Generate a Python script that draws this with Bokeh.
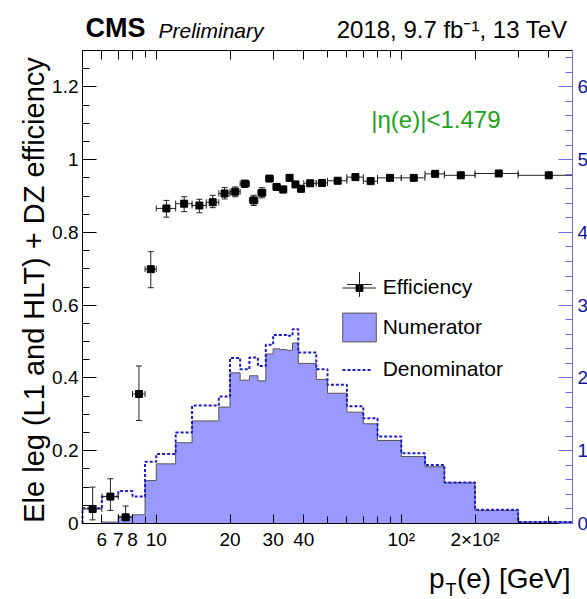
import math
import numpy as np
from bokeh.plotting import figure
from bokeh.models import (Range1d, LinearAxis, LogAxis, FixedTicker, Label, Legend,
                          LegendItem, ColumnDataSource, Whisker, TeeHead)
from bokeh.embed import file_html
from bokeh.resources import INLINE

FONT = "Liberation Sans"

# ---------------- data ----------------
bin_edges = [5, 6, 7, 8, 9, 10, 12, 14, 16, 18, 20, 22, 24, 26, 28, 30, 32, 34, 36,
             38, 40, 45, 50, 60, 70, 80, 100, 125, 150, 200, 300, 500]
efficiency = [0.040, 0.074, 0.017, 0.356, 0.699, 0.866, 0.879, 0.874, 0.883, 0.907,
              0.912, 0.934, 0.888, 0.909, 0.948, 0.925, 0.918, 0.950, 0.932, 0.920,
              0.935, 0.936, 0.942, 0.952, 0.941, 0.950, 0.950, 0.961, 0.957, 0.962, 0.957]
eff_err_up = [0.060, 0.049, 0.031, 0.077, 0.048, 0.022, 0.019, 0.017, 0.019, 0.016,
              0.013, 0.009, 0.014, 0.014, 0.007, 0.009, 0.009, 0.007, 0.008, 0.008,
              0.005, 0.005, 0.004, 0.004, 0.004, 0.003, 0.003, 0.003, 0.003, 0.003, 0.003]
eff_err_down = [0.030, 0.038, 0.015, 0.073, 0.051, 0.024, 0.022, 0.020, 0.015, 0.015,
                0.014, 0.010, 0.014, 0.014, 0.008, 0.009, 0.009, 0.008, 0.008, 0.008,
                0.005, 0.005, 0.004, 0.004, 0.004, 0.003, 0.003, 0.003, 0.003, 0.003, 0.003]
# histograms, in units of the right-hand axis
numerator = [0.00, 0.02, 0.10, 0.12, 0.59, 0.82, 1.11, 1.41, 1.41, 1.60, 2.07, 1.97,
             2.03, 1.96, 2.33, 2.40, 2.39, 2.38, 2.48, 2.20, 2.20, 1.98, 1.79, 1.53,
             1.37, 1.14, 0.92, 0.78, 0.56, 0.18, 0.02]
denominator = [0.21, 0.37, 0.445, 0.37, 0.85, 0.955, 1.25, 1.62, 1.62, 1.745, 2.275,
               2.12, 2.28, 2.165, 2.455, 2.59, 2.59, 2.58, 2.67, 2.35, 2.35, 2.12,
               1.905, 1.61, 1.445, 1.195, 0.965, 0.805, 0.565, 0.19, 0.02]

x_major_ticks = [6, 7, 8, 10, 20, 30, 40, 100, 200]
x_major_labels = ["6", "7", "8", "10", "20", "30", "40", "10²", "2×10²"]
x_minor_ticks = [9, 50, 60, 70, 80, 90, 300, 400]
y_major_ticks = [0, 0.2, 0.4, 0.6, 0.8, 1, 1.2]
y_major_labels = ["0", "0.2", "0.4", "0.6", "0.8", "1", "1.2"]
y_minor_ticks = [round(0.05 * i, 2) for i in range(27)]
r_major_ticks = [0, 1, 2, 3, 4, 5, 6]
r_minor_ticks = [round(0.2 * i, 1) for i in range(33)]

X_MIN, X_MAX = 5, 500
Y_MAX = 1.3
R_MAX = 6.5

# ---------------- layout (pixels) ----------------
W, H = 587, 599
FRAME_L, FRAME_R, FRAME_T, FRAME_B = 82, 572, 50, 523

px_dec = (FRAME_R - FRAME_L) / math.log10(X_MAX / X_MIN)
x_start = 10 ** (math.log10(X_MIN) - FRAME_L / px_dec)
x_end = 10 ** (math.log10(X_MAX) + (W - FRAME_R) / px_dec)
px_y = (FRAME_B - FRAME_T) / Y_MAX
y_start = -(H - FRAME_B) / px_y
y_end = Y_MAX + FRAME_T / px_y
r_fac = R_MAX / Y_MAX

# ---------------- derived ----------------
edges = np.array(bin_edges, dtype=float)
x_lo, x_hi = edges[:-1], edges[1:]
x_c = 0.5 * (x_lo + x_hi)
eff = np.array(efficiency)
src = ColumnDataSource(dict(x=x_c, y=eff, xlo=x_lo, xhi=x_hi,
                            ylo=eff - np.array(eff_err_down),
                            yhi=eff + np.array(eff_err_up)))


def outline(vals):
    xs = np.repeat(edges, 2)
    ys = np.concatenate([[0.0], np.repeat(np.array(vals, dtype=float), 2), [0.0]])
    return xs, ys


p = figure(width=W, height=H, x_axis_type="log",
           x_range=Range1d(x_start, x_end), y_range=Range1d(y_start, y_end),
           toolbar_location=None, output_backend="svg", min_border=0)
p.extra_y_ranges = {"hist": Range1d(y_start * r_fac, y_end * r_fac)}
p.outline_line_color = None
p.xgrid.visible = False
p.ygrid.visible = False
p.background_fill_color = "white"
p.border_fill_color = "white"


def style_axis(ax, color="black", label_color="black", major=14, minor=7):
    ax.axis_line_color = color
    ax.axis_line_width = 1
    ax.major_tick_line_color = color
    ax.minor_tick_line_color = color
    ax.major_tick_out = 0
    ax.minor_tick_out = 0
    ax.major_tick_in = major
    ax.minor_tick_in = minor
    ax.major_label_text_font = FONT
    ax.major_label_text_font_size = "19px"
    ax.major_label_text_color = label_color


# bottom axis
xb = p.xaxis[0]
xb.ticker = FixedTicker(ticks=x_major_ticks, minor_ticks=x_minor_ticks)
xb.major_label_overrides = dict(zip(x_major_ticks, x_major_labels))
xb.fixed_location = 0
xb.bounds = (X_MIN, X_MAX)
style_axis(xb, major=9, minor=7)
xb.major_label_standoff = 5

# top axis (ticks only)
xt = LogAxis(ticker=FixedTicker(ticks=x_major_ticks, minor_ticks=x_minor_ticks),
             major_label_overrides={t: "" for t in x_major_ticks},
             fixed_location=Y_MAX, bounds=(X_MIN, X_MAX))
style_axis(xt, major=9, minor=7)
p.add_layout(xt, "above")

# left axis
yl = p.yaxis[0]
yl.ticker = FixedTicker(ticks=y_major_ticks, minor_ticks=y_minor_ticks)
yl.major_label_overrides = dict(zip(y_major_ticks, y_major_labels))
yl.fixed_location = X_MIN
yl.bounds = (0, Y_MAX)
style_axis(yl, major=14, minor=7)
yl.major_label_standoff = 4

# right axis (histogram scale)
yr = LinearAxis(y_range_name="hist",
                ticker=FixedTicker(ticks=r_major_ticks, minor_ticks=r_minor_ticks),
                fixed_location=X_MAX, bounds=(0, R_MAX))
style_axis(yr, color="#6f6fdc", label_color="#14149c", major=14, minor=7)
yr.major_label_standoff = 5
p.add_layout(yr, "right")

# ---------------- glyphs ----------------
xs_n, ys_n = outline(numerator)
num_r = p.patch(xs_n, ys_n, y_range_name="hist", fill_color="#9999ff",
                line_color="#555555", line_width=1)
xs_d, ys_d = outline(denominator)
den_r = p.line(xs_d, ys_d, y_range_name="hist", line_color="#1c1cc8",
               line_width=2, line_dash="3 2")

ERR = "#222222"
hbar_r = p.segment(x0="xlo", y0="y", x1="xhi", y1="y", source=src,
                   line_color=ERR, line_width=1)
p.add_layout(Whisker(source=src, base="y", lower="xlo", upper="xhi", dimension="width",
                     line_alpha=0,
                     upper_head=TeeHead(size=6, line_color=ERR, line_width=1),
                     lower_head=TeeHead(size=6, line_color=ERR, line_width=1)))
p.add_layout(Whisker(source=src, base="x", lower="ylo", upper="yhi", dimension="height",
                     line_color=ERR, line_width=1,
                     upper_head=TeeHead(size=6, line_color=ERR, line_width=1),
                     lower_head=TeeHead(size=6, line_color=ERR, line_width=1)))
cross_r = p.scatter("x", "y", source=src, marker="cross", size=6,
                    line_color=ERR, line_width=1)
sq_r = p.scatter("x", "y", source=src, marker="square", size=7,
                 fill_color="black", line_color="black")


# ---------------- legends (locations: px from canvas left / bottom) ----------------
def make_legend(items, loc, gw, gh, standoff):
    lg = Legend(items=items, location=loc, glyph_width=gw, glyph_height=gh,
                label_standoff=standoff, padding=0, margin=0, spacing=0,
                border_line_alpha=0, background_fill_alpha=0,
                label_text_font=FONT, label_text_font_size="21px",
                label_text_color="black")
    p.add_layout(lg)
    return lg


make_legend([LegendItem(label="Efficiency", renderers=[hbar_r, sq_r])],
            (341.7, 300), 34, 17, 7)
make_legend([LegendItem(label=" ", renderers=[cross_r])],
            (327.7, 284.5), 62, 62, 0)
make_legend([LegendItem(label="Numerator", renderers=[num_r])],
            (337.7, 253.8), 42, 36, 3)
make_legend([LegendItem(label="Denominator", renderers=[den_r])],
            (341.7, 218), 30, 17, 11)


# ---------------- texts (px from canvas left / bottom; anchor = text box bottom) ----------------
def lab(text, x, y, size, color="black", **kw):
    p.add_layout(Label(text=text, x=x, y=y, x_units="screen", y_units="screen",
                       text_font=FONT, text_font_size=size, text_color=color, **kw))


lab("CMS", 85, 556.5, "27px", text_font_style="bold")
lab("Preliminary", 158, 557.5, "21px", text_font_style="italic")
lab("2018, 9.7 fb⁻¹, 13 TeV", 567, 557, "24px", text_align="right")
lab("|η(e)|<1.479", 500, 467, "24px", color="#22a022", text_align="right")
lab("Ele leg (L1 and HLT) + DZ efficiency", 33, 309.5, "29px",
    angle=math.pi / 2, text_align="center", text_baseline="middle")
lab("p", 444, 6, "28px", text_align="right")
lab("T", 456, 0, "18px", text_align="right")
lab("(e) [GeV]", 570, 6, "28px", text_align="right")

open("out.html", "w").write(file_html(p, INLINE))
